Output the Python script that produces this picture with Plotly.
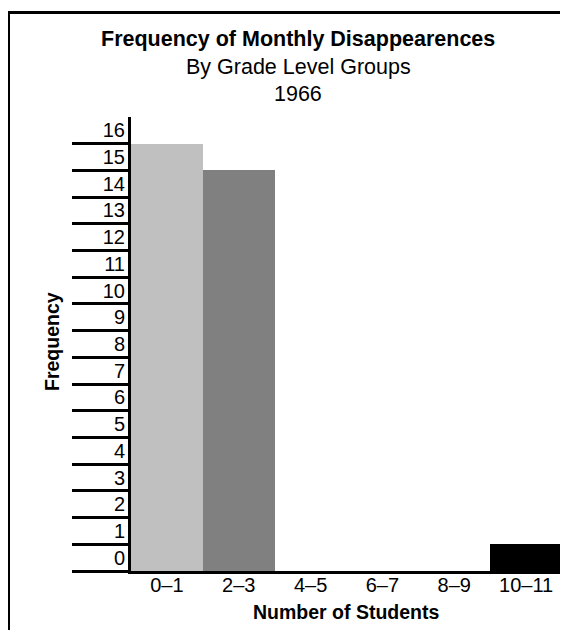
import plotly.graph_objects as go

# Data
categories = ["0–1", "2–3", "4–5", "6–7", "8–9", "10–11"]
bar_heights = [16, 15, 0, 0, 0, 1]
bar_colors = ["#C0C0C0", "#808080", "#FFFFFF", "#FFFFFF", "#FFFFFF", "#000000"]
grid_values = list(range(0, 17))
label_values = [k + 0.5 for k in range(0, 17)]
label_texts = [str(k) for k in range(0, 17)]

title_lines = ["<b>Frequency of Monthly Disappearences</b>", "By Grade Level Groups", "1966"]
x_title = "<b>Number of Students</b>"
y_title = "<b>Frequency</b>"

FONT = "Liberation Sans, Arial, sans-serif"
W, H = 568, 630
ML, MR, MT, MB = 123, 14, 109, 67
PW = W - ML - MR
PH = H - MT - MB


def px_x(p):
    return (p - ML) / PW


def px_y(p):
    return (H - MB - p) / PH


fig = go.Figure()
fig.add_trace(go.Bar(
    x=list(range(len(categories))),
    y=bar_heights,
    marker=dict(color=bar_colors, line=dict(width=0)),
    width=1.0,
    showlegend=False,
    hoverinfo="skip",
))
# invisible trace so the label axis is drawn
fig.add_trace(go.Scatter(
    x=[0], y=[0.5], yaxis="y2", mode="markers",
    marker=dict(opacity=0, size=1), showlegend=False, hoverinfo="skip",
))

fig.update_layout(
    width=W, height=H,
    margin=dict(l=ML, r=MR, t=MT, b=MB),
    paper_bgcolor="white", plot_bgcolor="white",
    font=dict(family=FONT, size=20, color="black"),
    bargap=0,
    xaxis=dict(
        range=[-0.5, len(categories) - 0.5],
        tickmode="array",
        tickvals=list(range(len(categories))),
        ticktext=categories,
        ticks="",
        showline=True, linecolor="black", linewidth=3,
        showgrid=False, zeroline=False,
        tickfont=dict(size=20, family=FONT),
        ticklabelstandoff=-6,
    ),
    yaxis=dict(
        range=[0, 17],
        tickmode="array",
        tickvals=grid_values,
        showticklabels=False,
        ticks="outside", ticklen=56, tickwidth=3, tickcolor="black",
        showline=True, linecolor="black", linewidth=3,
        showgrid=False, zeroline=False,
    ),
    yaxis2=dict(
        overlaying="y", anchor="x", side="left",
        range=[0, 17],
        tickmode="array",
        tickvals=label_values,
        ticktext=label_texts,
        ticks="",
        showline=False, showgrid=False, zeroline=False,
        tickfont=dict(size=20, family=FONT),
        ticklabelstandoff=5,
    ),
)

ann = []
title_y = [30.5, 59, 86]
for t, yy in zip(title_lines, title_y):
    ann.append(dict(text=t, x=px_x(290), y=px_y(yy), xref="paper", yref="paper",
                    xanchor="center", yanchor="middle", showarrow=False,
                    font=dict(size=21.5, family=FONT, color="black")))
ann.append(dict(text=x_title, x=px_x(338), y=px_y(604), xref="paper", yref="paper",
                xanchor="center", yanchor="middle", showarrow=False,
                font=dict(size=19.5, family=FONT, color="black")))
ann.append(dict(text=y_title, x=px_x(44), y=px_y(334), xref="paper", yref="paper",
                xanchor="center", yanchor="middle", showarrow=False, textangle=-90,
                font=dict(size=19.5, family=FONT, color="black")))
fig.update_layout(annotations=ann)

# Frame (left and top edges)
fig.add_shape(type="line", xref="paper", yref="paper",
              x0=px_x(0.5), x1=px_x(0.5), y0=px_y(3), y1=px_y(640),
              line=dict(color="black", width=3))
fig.add_shape(type="line", xref="paper", yref="paper",
              x0=px_x(-1), x1=px_x(575), y0=px_y(4.5), y1=px_y(4.5),
              line=dict(color="black", width=3))

fig.write_html("out.html")
